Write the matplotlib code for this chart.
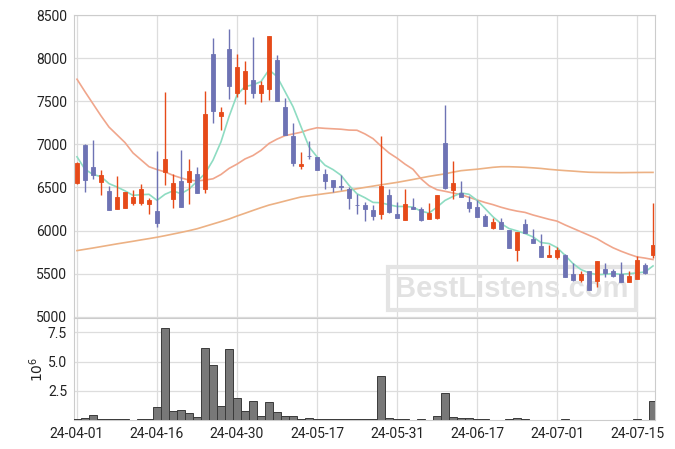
import matplotlib
matplotlib.use("Agg")
import matplotlib.pyplot as plt
import numpy as np

plt.rcParams['font.family'] = ['Roboto', 'DejaVu Sans']

# ---------------- data ----------------
tick_labels = ["24-04-01", "24-04-16", "24-04-30", "24-05-17",
               "24-05-31", "24-06-17", "24-07-01", "24-07-15"]
tick_index = [0, 10, 20, 30, 40, 50, 60, 70]

opens = [6550, 6990, 6740, 6560, 6455, 6253, 6264, 6319, 6319, 6307,
         6222, 6680, 6365, 6571, 6559, 6653, 6478, 8050, 7332, 8109,
         7600, 7639, 7748, 7592, 7647, 7981, 7429, 7095, 6746, 6870,
         6851, 6660, 6583, 6513, 6480, 6302, 6291, 6233, 6186, 6407,
         6186, 6124, 6271, 6244, 6136, 6143, 7019, 6465, 6438, 6333,
         6267, 6167, 6031, 6093, 6004, 5779, 6081, 5907, 5818, 5694,
         5694, 5721, 5492, 5422, 5531, 5411, 5558, 5527, 5500, 5403,
         5442, 5605, 5721]
highs = [6790, 7000, 7049, 6699, 6513, 6637, 6443, 6474, 6544, 6381,
         6920, 7612, 6653, 6932, 6835, 6738, 7619, 8233, 7437, 8338,
         8047, 7961, 8245, 7736, 8260, 8039, 7534, 7251, 6913, 7041,
         6851, 6719, 6590, 6641, 6504, 6426, 6329, 6291, 7093, 6477,
         6329, 6477, 6376, 6271, 6322, 6415, 7453, 6806, 6570, 6399,
         6353, 6190, 6147, 6147, 6004, 5977, 6132, 6023, 5957, 5837,
         5810, 5733, 5628, 5531, 5531, 5643, 5624, 5550, 5636, 5531,
         5702, 5624, 6314]
lows = [6540, 6447, 6602, 6408, 6241, 6253, 6264, 6299, 6299, 6194,
        6039, 6532, 6264, 6272, 6311, 6435, 6435, 7251, 7165, 7522,
        7553, 7468, 7534, 7487, 7515, 7499, 7111, 6750, 6719, 6835,
        6703, 6486, 6447, 6466, 6252, 6194, 6116, 6124, 6136, 6202,
        6143, 6124, 6248, 6105, 6136, 6136, 6484, 6368, 6388, 6217,
        6155, 6054, 6023, 6012, 5802, 5643, 5973, 5857, 5694, 5694,
        5674, 5461, 5414, 5406, 5306, 5345, 5461, 5461, 5403, 5403,
        5442, 5500, 5686]
closes = [6780, 6583, 6641, 6649, 6241, 6385, 6443, 6385, 6478, 6350,
          6086, 6827, 6548, 6272, 6687, 6435, 7352, 7390, 7371, 7682,
          7895, 7852, 7592, 7689, 8260, 7499, 7111, 6785, 6769, 6862,
          6703, 6575, 6509, 6505, 6380, 6298, 6244, 6163, 6512, 6213,
          6143, 6302, 6248, 6124, 6205, 6415, 6492, 6554, 6388, 6264,
          6159, 6054, 6093, 6012, 5802, 5977, 5973, 5857, 5694, 5713,
          5771, 5461, 5430, 5492, 5306, 5643, 5508, 5469, 5403, 5473,
          5663, 5508, 5830]
volume_m = [0.06, 0.17, 0.40, 0.06, 0.05, 0.05, 0.05, 0.00, 0.05, 0.05,
            1.08, 7.84, 0.74, 0.83, 0.57, 0.23, 6.13, 4.68, 1.17, 6.05,
            1.85, 0.74, 1.60, 0.31, 1.51, 0.66, 0.31, 0.31, 0.06, 0.14,
            0.05, 0.05, 0.05, 0.05, 0.05, 0.05, 0.05, 0.05, 3.76, 0.17,
            0.06, 0.06, 0.00, 0.05, 0.00, 0.34, 2.31, 0.23, 0.14, 0.14,
            0.06, 0.06, 0.00, 0.00, 0.05, 0.14, 0.05, 0.00, 0.00, 0.00,
            0.00, 0.05, 0.00, 0.00, 0.00, 0.00, 0.00, 0.00, 0.00, 0.00,
            0.06, 0.00, 1.63]
ma5 = [6855, 6710, 6650, 6625, 6544, 6505, 6460, 6408, 6415, 6420,
       6350, 6420, 6460, 6427, 6480, 6570, 6660, 6816, 7029, 7320,
       7573, 7670, 7689, 7728, 7864, 7786, 7612, 7437, 7204, 6971,
       6855, 6757, 6707, 6641, 6524, 6426, 6380, 6326, 6322, 6298,
       6279, 6279, 6271, 6225, 6202, 6271, 6349, 6395, 6436, 6420,
       6351, 6256, 6159, 6081, 6023, 5996, 5965, 5926, 5860, 5849,
       5802, 5713, 5616, 5547, 5508, 5488, 5492, 5500, 5492, 5500,
       5508, 5519, 5589]
ma20 = [7755, 7610, 7470, 7330, 7200, 7110, 7020, 6900, 6820, 6740,
        6707, 6680, 6640, 6610, 6585, 6575, 6585, 6600, 6650, 6720,
        6770, 6830, 6870, 6930, 7010, 7060, 7100, 7120, 7140, 7170,
        7192, 7185, 7180, 7175, 7165, 7163, 7120, 7066, 6980, 6900,
        6840, 6770, 6710, 6600, 6520, 6473, 6455, 6435, 6415, 6385,
        6355, 6325, 6300, 6270, 6245, 6225, 6210, 6180, 6155, 6130,
        6109, 6065, 6025, 5985, 5945, 5905, 5850, 5800, 5760, 5725,
        5694, 5680, 5663]
ma60 = [5767, 5782, 5797, 5813, 5829, 5845, 5860, 5875, 5891, 5906,
        5922, 5940, 5959, 5978, 5998, 6020, 6048, 6076, 6104, 6133,
        6168, 6200, 6233, 6265, 6295, 6318, 6342, 6366, 6389, 6402,
        6415, 6428, 6440, 6455, 6470, 6485, 6500, 6515, 6530, 6544,
        6558, 6575, 6592, 6610, 6628, 6643, 6657, 6677, 6694, 6703,
        6711, 6722, 6733, 6740, 6740, 6737, 6733, 6727, 6720, 6710,
        6702, 6695, 6689, 6682, 6676, 6674, 6673, 6672, 6671, 6672,
        6673, 6674, 6674]

# ---------------- style ----------------
UP = "#e64a19"
DOWN = "#6e73b4"
GRID = "#dddddd"
SPINE = "#cccccc"
TXT = "#222222"

fig = plt.figure(figsize=(6.75, 4.49), dpi=100)
W, H = 675, 449
left, right = 74, 655
ax = fig.add_axes([left / W, (H - 318) / H, (right - left) / W, (318 - 15) / H])
axv = fig.add_axes([left / W, (H - 420) / H, (right - left) / W, (420 - 318) / H], sharex=ax)

n = len(closes)
x = np.arange(n)
o = np.array(opens, float)
c = np.array(closes, float)
h = np.array(highs, float)
l = np.array(lows, float)
up = c >= o
cols = np.where(up, UP, DOWN)

# wicks
ax.vlines(x, l, h, colors=cols, linewidth=1.0, zorder=3)
# bodies
body_bottom = np.minimum(o, c)
body_h = np.maximum(np.abs(c - o), 6)
ax.bar(x, body_h, bottom=body_bottom - np.where(np.abs(c - o) < 6, 3, 0), width=0.6,
       color=cols, edgecolor=cols, linewidth=0.6, zorder=4)

# moving averages
ax.plot(x, ma60, color="#ecb184", lw=1.2, zorder=2)
ax.plot(x, ma20, color="#f0a68c", lw=1.2, zorder=2)
ax.plot(x, ma5, color="#8edcc2", lw=1.2, zorder=2)

ax.set_xlim(-0.375, 72.25)
ax.set_ylim(4985, 8500)
ax.set_yticks(np.arange(5000, 8501, 500))
ax.yaxis.set_major_formatter(matplotlib.ticker.FuncFormatter(lambda v, p: f"{int(v)}"))
ax.grid(True, color=GRID, lw=0.9)
ax.set_axisbelow(True)
ax.tick_params(axis="x", which="both", length=0, labelbottom=False)
ax.tick_params(axis="y", length=0, pad=5, labelsize=10, labelcolor=TXT)
for s in ax.spines.values():
    s.set_color(SPINE)

# watermark
ax.text(0.758, 0.357, "BestListens.com", transform=fig.transFigure,
        fontfamily=["Liberation Sans", "DejaVu Sans"], fontweight="bold",
        fontsize=21, color="#e2e2e2", ha="center", va="center", zorder=1,
        bbox=dict(boxstyle="square,pad=0.25", facecolor="none",
                  edgecolor="#e4e4e4", linewidth=3))

# volume
axv.bar(x, volume_m, width=1.0, color="#787878", edgecolor="#3a3a3a",
        linewidth=0.7, zorder=3)
axv.set_ylim(0, 8.72)
axv.set_yticks([2.5, 5.0, 7.5])
axv.set_yticklabels(["2.5", "5.0", "7.5"])
axv.set_xticks(tick_index)
axv.set_xticklabels(tick_labels)
axv.grid(True, color=GRID, lw=0.9)
axv.set_axisbelow(True)
axv.tick_params(axis="x", length=0, pad=5, labelsize=10, labelcolor=TXT)
axv.tick_params(axis="y", length=0, pad=5, labelsize=10, labelcolor=TXT)
axv.set_ylabel(r"$10^6$", fontsize=10, color=TXT)
axv.yaxis.set_label_coords(-0.048, 0.5)
for s in axv.spines.values():
    s.set_color(SPINE)

fig.savefig("out.png", dpi=100)
